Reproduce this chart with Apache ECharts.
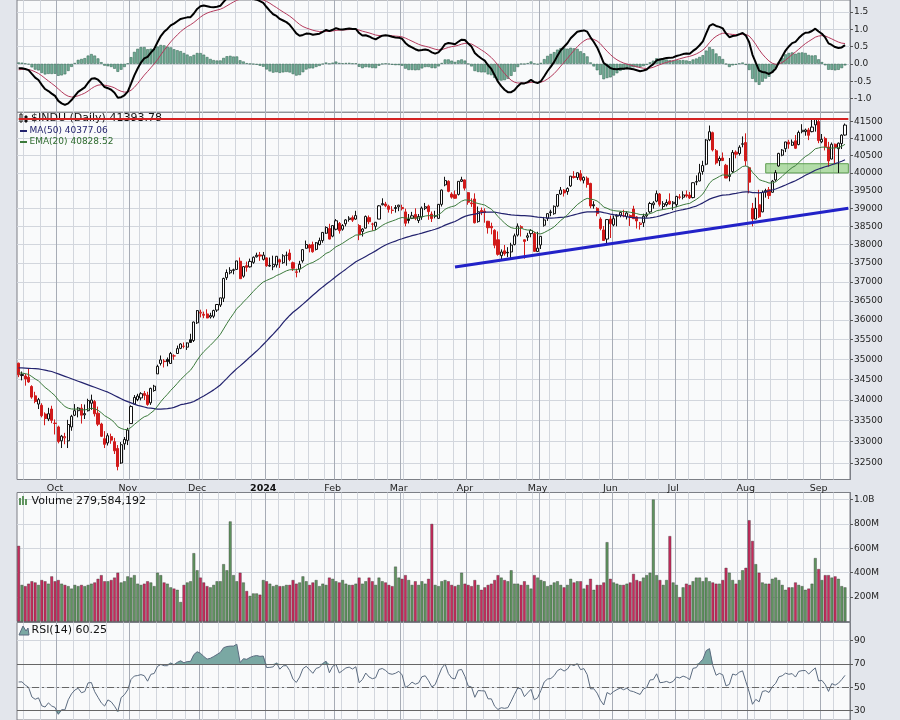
<!DOCTYPE html>
<html>
<head>
<meta charset="utf-8">
<script src="https://cdn.jsdelivr.net/npm/echarts@6/dist/echarts.min.js"></script>
<style>
  html, body { margin: 0; padding: 0; background: #e3e6ec; }
  #chart { width: 900px; height: 720px; }
</style>
</head>
<body>
<div id="chart"></div>
<script>
// trading days, 2023-09-15 .. 2024-09-13
const HOLIDAYS = ['2023-11-23', '2023-12-25', '2024-01-01', '2024-01-15', '2024-02-19',
  '2024-03-29', '2024-05-27', '2024-06-19', '2024-07-04', '2024-09-02']

const OPEN = [
  34907, 34600, 34590, 34560, 34330, 34100, 33900, 33870, 33660, 33540, 33780,
  33440, 33350, 33020, 33090, 33020, 33350, 33630, 33740, 33800, 33640, 33740, 33920, 33960, 33680, 33420, 33070, 32970, 33120, 33000, 32840, 32500, 32950,
  33030, 33430, 33900, 34010, 34050, 34160, 34120, 33930, 34230, 34640, 34900, 34960, 35000, 34900, 35090, 35150, 35280, 35330, 35310, 35500, 35480,
  35930, 36180, 36150, 36160, 36080, 36100, 36260, 36390, 36570, 37110, 37240, 37320, 37330, 37550, 37150, 37430, 37400, 37520, 37670, 37720,
  37600, 37640, 37420, 37400, 37450, 37590, 37510, 37710, 37770, 37510, 37250, 37340, 37560, 37900, 37990, 38000, 37870, 38000, 38110, 38310, 38440,
  38230, 38420, 38580, 38420, 38570, 38690, 38740, 38700, 38520, 38360, 38450, 38740, 38560, 38500, 38700, 39100, 39120, 39060, 38940, 39020,
  39040, 39020, 38900, 38700, 38720, 38830, 38660, 38760, 39000, 39060, 38840, 38780, 38720, 39110, 39660, 39760, 39400, 39380, 39390, 39760,
  39800, 39440, 39150, 39260, 38630, 38940, 38920, 38640, 38500, 38390, 38130, 37700, 37830, 37790, 37800, 38000, 38260, 38490, 38130, 38200, 38300, 38300,
  37810, 37990, 38530, 38720, 38900, 38850, 39060, 39400, 39510, 39470, 39630, 39900, 39870, 39980, 39790, 39850, 39700, 39100, 39000, 38700, 38400, 38150,
  38700, 38540, 38780, 38810, 38800, 38770, 38800, 38980, 38760, 38550, 38600, 38790, 38900, 39100, 39200, 39400, 39050, 39100, 39200,
  39130, 39100, 39320, 39310, 39380, 39370, 39300, 39740, 39770, 40040, 40250, 40960, 41170, 40640, 40350, 40430, 40220, 39900, 40040, 40600, 40560, 40830,
  40880, 40150, 39000, 38700, 39100, 38900, 39450, 39520, 39450, 39800, 40200, 40510, 40700, 40890, 40800, 40930, 40820, 41200, 41200, 41250, 41200, 41400,
  41500, 40900, 41000, 40750, 40400, 40830, 40700, 40850, 41100
]
const HIGH = [
  34920, 34700, 34640, 34780, 34360, 34200, 34050, 33920, 33700, 33810, 33860,
  33530, 33380, 33160, 33210, 33520, 33640, 33900, 33830, 33900, 33890, 34030, 34130, 34000, 33840, 33450, 33250, 33200, 33190, 33090, 32920, 32990, 33110,
  33330, 33870, 34120, 34150, 34190, 34220, 34200, 34300, 34370, 34870, 35100, 35010, 35050, 35190, 35130, 35350, 35410, 35430, 35430, 35650, 35960,
  36260, 36270, 36220, 36280, 36190, 36270, 36410, 36580, 37110, 37330, 37390, 37350, 37560, 37650, 37420, 37540, 37620, 37680, 37780, 37800,
  37800, 37650, 37650, 37700, 37690, 37620, 37740, 37810, 37870, 37540, 37350, 37560, 37880, 38110, 38020, 38080, 38070, 38190, 38340, 38500, 38570,
  38520, 38700, 38620, 38560, 38700, 38780, 38800, 38930, 38560, 38450, 38800, 38800, 38600, 38620, 39090, 39280, 39180, 39100, 39060, 39090,
  39100, 39100, 38990, 38840, 38900, 39000, 38840, 39050, 39150, 39100, 38910, 38930, 39120, 39530, 39890, 39790, 39450, 39500, 39760, 39890,
  39810, 39460, 39280, 39420, 39050, 39020, 39000, 38650, 38600, 38420, 38360, 37870, 37990, 37930, 38050, 38300, 38580, 38530, 38140, 38320, 38420, 38350,
  38350, 38230, 38760, 38860, 38960, 39080, 39390, 39600, 39540, 39590, 39910, 40050, 40010, 40080, 39900, 39900, 39720, 39200, 39030, 38750, 38510, 38700,
  38800, 38800, 38830, 38910, 38960, 38920, 38830, 39070, 38780, 38620, 38850, 38890, 39180, 39200, 39500, 39430, 39200, 39250, 39420,
  39200, 39350, 39400, 39480, 39500, 39460, 39730, 39930, 40260, 40350, 40980, 41380, 41200, 40690, 40480, 40590, 40260, 40430, 40660, 40650, 40800, 41060,
  41150, 40180, 39150, 39300, 39520, 39500, 39550, 39600, 39800, 40080, 40580, 40690, 40900, 40960, 40970, 41100, 41230, 41420, 41290, 41310, 41580, 41590,
  41550, 41130, 41050, 40900, 40880, 40850, 40880, 41120, 41440
]
const LOW = [
  34560, 34480, 34350, 34420, 34030, 33920, 33780, 33580, 33390, 33490, 33440,
  33170, 32960, 32850, 32940, 32850, 33260, 33610, 33580, 33430, 33540, 33720, 33760, 33600, 33370, 33110, 32850, 32910, 32950, 32710, 32330, 32480, 32810,
  32920, 33420, 33880, 33970, 33990, 34000, 33860, 33880, 34200, 34640, 34850, 34800, 34830, 34900, 34990, 35140, 35260, 35280, 35240, 35420, 35440,
  35900, 36070, 36050, 36050, 36040, 36050, 36210, 36340, 36470, 37050, 37200, 37200, 37320, 37080, 37110, 37270, 37380, 37480, 37650, 37560,
  37570, 37400, 37400, 37310, 37380, 37370, 37480, 37430, 37550, 37290, 37120, 37250, 37510, 37890, 37790, 37780, 37840, 37980, 38050, 38290, 38140,
  38200, 38390, 38300, 38380, 38500, 38630, 38620, 38680, 38120, 38220, 38440, 38560, 38380, 38400, 38700, 39080, 39030, 38880, 38850, 38880,
  38920, 38940, 38500, 38580, 38700, 38670, 38590, 38680, 38950, 38680, 38620, 38720, 38710, 39050, 39620, 39450, 39270, 39270, 39360, 39740,
  39500, 39100, 39040, 38580, 38600, 38810, 38600, 38300, 38280, 37900, 37700, 37610, 37700, 37660, 37610, 37980, 38220, 38220, 37620, 38100, 38200, 37810,
  37800, 37880, 38490, 38650, 38780, 38820, 39030, 39380, 39330, 39380, 39600, 39840, 39800, 39760, 39700, 39580, 39000, 38990, 38780, 38390, 38110, 38000,
  38180, 38500, 38500, 38750, 38750, 38690, 38510, 38700, 38440, 38410, 38480, 38740, 38860, 38990, 39170, 39050, 38970, 39050, 39100,
  38950, 39030, 39250, 39250, 39300, 39260, 39280, 39650, 39760, 39950, 40220, 40920, 40620, 40240, 40200, 40340, 39850, 39760, 40000, 40420, 40500, 40740,
  40200, 39420, 38500, 38690, 38730, 38890, 39300, 39260, 39440, 39750, 40180, 40480, 40600, 40700, 40780, 40690, 40800, 41150, 41080, 40950, 41180, 41200,
  40860, 40860, 40650, 40180, 40390, 40260, 40000, 40690, 41080
]
const CLOSE = [
  34618, 34624, 34517, 34441, 34070, 33964, 34007, 33619, 33551, 33667, 33508,
  33433, 33002, 33130, 33120, 33408, 33605, 33740, 33805, 33631, 33670, 33985, 33998, 33665, 33415, 33127, 32937, 33141, 33036, 32785, 32418, 32929, 33053,
  33275, 33840, 34061, 34096, 34153, 34112, 33892, 34283, 34338, 34828, 34991, 34946, 34947, 35151, 35088, 35273, 35390, 35334, 35417, 35430, 35951,
  36246, 36204, 36125, 36055, 36118, 36248, 36405, 36578, 37090, 37248, 37306, 37307, 37558, 37083, 37405, 37386, 37545, 37657, 37710, 37690,
  37715, 37430, 37440, 37466, 37683, 37526, 37696, 37711, 37593, 37361, 37267, 37469, 37863, 38001, 37906, 37806, 38050, 38109, 38333, 38467, 38150,
  38520, 38654, 38380, 38521, 38677, 38726, 38671, 38797, 38273, 38424, 38773, 38628, 38564, 38612, 39069, 39131, 39069, 38972, 38949, 38996,
  39087, 38990, 38585, 38661, 38791, 38723, 38770, 39005, 39043, 38906, 38715, 38790, 39111, 39512, 39781, 39476, 39313, 39282, 39760, 39807,
  39567, 39170, 39128, 38597, 38904, 38892, 38883, 38462, 38459, 37983, 37735, 37799, 37753, 37775, 37986, 38240, 38504, 38461, 38086, 38240, 38386, 37816,
  37903, 38226, 38676, 38852, 38884, 39056, 39388, 39513, 39432, 39558, 39908, 39869, 40004, 39807, 39873, 39671, 39065, 39070, 38853, 38442, 38112, 38686,
  38571, 38711, 38807, 38886, 38799, 38868, 38747, 38712, 38648, 38589, 38778, 38835, 39134, 39150, 39411, 39112, 39127, 39164, 39119,
  39170, 39332, 39308, 39376, 39345, 39292, 39721, 39753, 40001, 40212, 40954, 41198, 40665, 40288, 40415, 40358, 39854, 39935, 40590, 40540, 40743, 40843,
  40348, 39737, 38703, 38997, 38763, 39446, 39498, 39357, 39766, 40008, 40563, 40660, 40897, 40835, 40891, 40713, 41175, 41240, 41250, 41092, 41335, 41563,
  40937, 40975, 40756, 40345, 40830, 40737, 40861, 41097, 41394
]
// millions of shares
const VOLUME = [
  620, 300, 290, 310, 330, 320, 300, 340, 330, 310, 370,
  330, 340, 310, 300, 290, 270, 300, 290, 300, 290, 300, 310, 320, 350, 380, 330, 330, 340, 360, 400, 320, 330,
  370, 360, 380, 310, 300, 310, 330, 320, 290, 400, 380, 320, 310, 280, 270, 260, 160, 300, 320, 330, 560,
  420, 360, 320, 290, 280, 300, 330, 330, 470, 420, 820, 380, 330, 400, 320, 250, 210, 230, 230, 220,
  340, 330, 310, 290, 300, 290, 290, 300, 300, 340, 310, 320, 370, 330, 300, 320, 340, 290, 310, 300, 360,
  350, 330, 320, 340, 310, 300, 300, 310, 360, 310, 330, 360, 330, 300, 360, 330, 320, 300, 290, 450,
  360, 350, 380, 340, 300, 330, 300, 330, 310, 350, 800, 300, 290, 330, 340, 330, 300, 290, 300, 400,
  310, 300, 290, 340, 300, 260, 280, 300, 310, 340, 380, 360, 340, 330, 420, 310, 310, 300, 330, 300, 270, 380,
  360, 340, 330, 290, 300, 320, 330, 300, 280, 300, 350, 320, 330, 330, 270, 300, 350, 260, 300, 300, 320, 650,
  350, 320, 310, 300, 300, 310, 320, 390, 340, 330, 360, 380, 400, 1000, 380, 340, 300, 340, 700,
  320, 300, 200, 280, 310, 300, 330, 360, 360, 330, 360, 330, 320, 310, 310, 340, 440, 400, 340, 310, 340, 420,
  440, 830, 660, 470, 400, 320, 310, 310, 350, 360, 340, 300, 260, 280, 280, 320, 300, 290, 260, 270, 310, 520,
  430, 340, 380, 380, 360, 370, 350, 290, 280
]
const MA50_EARLY = [
  34790, 34790, 34785, 34780, 34775, 34770, 34765, 34750, 34735, 34715,
  34700, 34670, 34640, 34610, 34580, 34550, 34520, 34490, 34460, 34430,
  34400, 34370, 34340, 34310, 34280, 34250, 34220, 34190, 34150, 34110,
  34070, 34030, 33990, 33960, 33930, 33900, 33870, 33850, 33830, 33810,
  33800, 33790, 33780, 33780, 33785, 33790, 33800, 33820, 33850
]
// indicator values at the first bar
const EMA20_START = 34664
const EMA12_START = 34655
const EMA26_START = 34700
const SIGNAL_START = -0.17
const RSI_GAIN_START = 90
const RSI_LOSS_START = 75

const PRICE_TICKS = [32500, 33000, 33500, 34000, 34500, 35000, 35500, 36000, 36500, 37000,
  37500, 38000, 38500, 39000, 39500, 40000, 40500, 41000, 41500]
const PPO_TICKS = [-1, -0.5, 0, 0.5, 1, 1.5]
const VOLUME_TICKS = [200, 400, 600, 800, 1000]
const RSI_TICKS = [30, 50, 70, 90]
const MONTHS = ['Jan', 'Feb', 'Mar', 'Apr', 'May', 'Jun', 'Jul', 'Aug', 'Sep', 'Oct', 'Nov', 'Dec']

// annotations (date or bar index, price)
const RESISTANCE = 41575
const TREND_FROM = ['2024-03-26', 37395]
const TREND_TO = [251, 39000]
const ZONE = [226, 40000, 251, 40265]

const DATES = (() => {
  const out = []
  const d = new Date(Date.UTC(2023, 8, 15))
  const end = Date.UTC(2024, 8, 13)
  while (d.getTime() <= end) {
    const s = d.toISOString().slice(0, 10)
    const wd = d.getUTCDay()
    if (wd !== 0 && wd !== 6 && !HOLIDAYS.includes(s)) out.push(s)
    d.setUTCDate(d.getUTCDate() + 1)
  }
  return out
})()
const CATS = DATES.concat([''])
const MONTH_START = CATS.map((s, i) => i > 0 && s !== '' && s.slice(0, 7) !== CATS[i - 1].slice(0, 7))
const WEEK_START = CATS.map((s, i) => {
  if (i === 0 || s === '') return false
  return new Date(s + 'T00:00:00Z').getUTCDay() < new Date(CATS[i - 1] + 'T00:00:00Z').getUTCDay()
})

// indicators
const N = CLOSE.length
const ma50 = CLOSE.map((c, i) => {
  if (i < 49) return MA50_EARLY[i]
  let s = 0
  for (let k = i - 49; k <= i; k++) s += CLOSE[k]
  return s / 50
})
const ema20 = []
const ppo = []
const signal = []
const rsi = []
{
  let e20 = EMA20_START, e12 = EMA12_START, e26 = EMA26_START, sig = SIGNAL_START
  let g = RSI_GAIN_START, l = RSI_LOSS_START
  for (let i = 0; i < N; i++) {
    if (i > 0) {
      const c = CLOSE[i]
      e20 += (c - e20) * 2 / 21
      e12 += (c - e12) * 2 / 13
      e26 += (c - e26) * 2 / 27
      const ch = c - CLOSE[i - 1]
      g = (g * 13 + Math.max(ch, 0)) / 14
      l = (l * 13 + Math.max(-ch, 0)) / 14
    }
    const p = (e12 - e26) / e26 * 100
    if (i > 0) sig += (p - sig) * 2 / 10
    ema20.push(e20)
    ppo.push(p)
    signal.push(sig)
    rsi.push(100 - 100 / (1 + g / l))
  }
}
const hist = ppo.map((p, i) => p - signal[i])

const log = Math.log
const FONT = 'DejaVu Sans'
const GRID_LINE = '#d2d6dd'
const MONTH_LINE = '#a7acb6'

const candles = CLOSE.map((c, i) => {
  const o = OPEN[i]
  const prev = i ? CLOSE[i - 1] : o
  const col = c >= prev ? '#111111' : '#d11a1a'
  const fill = c >= o ? '#ffffff' : col
  return {
    value: [log(o), log(c), log(LOW[i]), log(HIGH[i])],
    itemStyle: { color: fill, color0: fill, borderColor: col, borderColor0: col }
  }
})
const volBars = VOLUME.map((v, i) => {
  const up = i === 0 ? false : CLOSE[i] >= CLOSE[i - 1]
  return { value: v, itemStyle: { color: up ? '#5f945f' : '#c72b5c' } }
})

function xPair (gridIndex, withLabels) {
  const base = {
    type: 'category', gridIndex, position: 'bottom', data: CATS, boundaryGap: true,
    axisLine: { show: false }, axisTick: { show: false }
  }
  return [
    Object.assign({}, base, {
      axisLabel: { show: false },
      splitLine: { show: true, interval: (i) => WEEK_START[i - 1] === true, lineStyle: { color: GRID_LINE, width: 1 } }
    }),
    Object.assign({}, base, {
      axisLabel: withLabels ? {
        show: true,
        interval: (i) => MONTH_START[i],
        margin: 4,
        fontFamily: FONT,
        fontSize: 9.5,
        color: '#222',
        formatter: (v) => {
          const m = +v.slice(5, 7)
          return m === 1 ? '{y|' + v.slice(0, 4) + '}' : MONTHS[m - 1]
        },
        rich: { y: { fontFamily: FONT, fontSize: 9.5, fontWeight: 'bold', color: '#111' } }
      } : { show: false },
      splitLine: { show: true, interval: (i) => MONTH_START[i - 1] === true, lineStyle: { color: MONTH_LINE, width: 1 } }
    })
  ]
}

function yRight (gridIndex, min, max, ticks, fmt) {
  return {
    type: 'value', gridIndex, position: 'right', min, max, scale: true,
    axisLine: { show: true, lineStyle: { color: '#7c7f86' } },
    axisTick: { show: true, length: 3, customValues: ticks, lineStyle: { color: '#555' } },
    axisLabel: { customValues: ticks, formatter: fmt, fontFamily: FONT, fontSize: 9, color: '#222', margin: 4 },
    splitLine: { show: true, lineStyle: { color: GRID_LINE, width: 1 } }
  }
}

const gridStyle = { left: 17, right: 50, show: true, backgroundColor: '#f9fafb', borderColor: '#7c7f86', borderWidth: 1 }

const option = {
  animation: false,
  backgroundColor: '#e3e6ec',
  grid: [
    Object.assign({ top: -2, height: 114.3 }, gridStyle),
    Object.assign({ top: 112.3, height: 367.2 }, gridStyle),
    Object.assign({ top: 492.5, height: 129 }, gridStyle),
    Object.assign({ top: 622.5, height: 97.5 }, gridStyle)
  ],
  xAxis: [].concat(xPair(0, false), xPair(1, true), xPair(2, false), xPair(3, false)),
  yAxis: [
    yRight(0, -1.397, 1.841, PPO_TICKS, (v) => v.toFixed(1)),
    yRight(1, log(41500) - 0.25626, log(41500) + 0.006586, PRICE_TICKS.map(log), (v) => String(Math.round(Math.exp(v)))),
    yRight(2, 0, 1057, VOLUME_TICKS, (v) => v >= 1000 ? (v / 1000).toFixed(1) + 'B' : v + 'M'),
    yRight(3, 21.97, 105.54, RSI_TICKS, (v) => String(v))
  ],
  series: [
    // PPO panel
    {
      type: 'bar', xAxisIndex: 0, yAxisIndex: 0, data: hist, barWidth: '85%',
      itemStyle: { color: '#72ae97', borderColor: '#3d6b5b', borderWidth: 0.6 }
    },
    {
      type: 'line', xAxisIndex: 0, yAxisIndex: 0, data: signal, symbol: 'none',
      lineStyle: { color: '#b33a5c', width: 1 }
    },
    {
      type: 'line', xAxisIndex: 0, yAxisIndex: 0, data: ppo, symbol: 'none',
      lineStyle: { color: '#000000', width: 2 }
    },
    // price panel
    {
      type: 'candlestick', xAxisIndex: 2, yAxisIndex: 1, data: candles, barWidth: 2.6,
      markArea: {
        silent: true,
        itemStyle: { color: 'rgba(120,195,100,0.55)', borderColor: '#5e9e50', borderWidth: 1 },
        data: [[{ xAxis: ZONE[0], yAxis: log(ZONE[1]) }, { xAxis: ZONE[2], yAxis: log(ZONE[3]) }]]
      }
    },
    {
      type: 'line', xAxisIndex: 2, yAxisIndex: 1, data: ma50.map(log), symbol: 'none',
      lineStyle: { color: '#23236e', width: 1.2 }
    },
    {
      type: 'line', xAxisIndex: 2, yAxisIndex: 1, data: ema20.map(log), symbol: 'none',
      lineStyle: { color: '#3b7a3b', width: 1 },
      markLine: {
        silent: true, symbol: ['none', 'none'], label: { show: false },
        data: [
          [
            { coord: [TREND_FROM[0], log(TREND_FROM[1])], lineStyle: { color: '#2222c8', width: 3, type: 'solid' } },
            { coord: [TREND_TO[0], log(TREND_TO[1])] }
          ]
        ]
      }
    },
    // horizontal resistance line across the whole panel
    {
      type: 'line', xAxisIndex: 2, yAxisIndex: 1, symbol: 'none', z: 5,
      data: CATS.map(() => log(RESISTANCE)),
      lineStyle: { color: '#d42222', width: 2 }
    },
    // volume panel
    {
      type: 'bar', xAxisIndex: 4, yAxisIndex: 2, data: volBars, barWidth: '88%',
      itemStyle: { borderColor: 'rgba(50,50,50,0.75)', borderWidth: 0.5 }
    },
    // RSI panel: shaded zones above 70 and below 30
    {
      type: 'line', xAxisIndex: 6, yAxisIndex: 3, stack: 'ob', symbol: 'none',
      data: rsi.map(() => 70), lineStyle: { opacity: 0 }
    },
    {
      type: 'line', xAxisIndex: 6, yAxisIndex: 3, stack: 'ob', symbol: 'none',
      data: rsi.map((v) => Math.max(v - 70, 0)), lineStyle: { opacity: 0 },
      areaStyle: { color: '#7aa8a3', opacity: 1 }
    },
    {
      type: 'line', xAxisIndex: 6, yAxisIndex: 3, stack: 'os', symbol: 'none',
      data: rsi.map((v) => Math.min(v, 30)), lineStyle: { opacity: 0 }
    },
    {
      type: 'line', xAxisIndex: 6, yAxisIndex: 3, stack: 'os', symbol: 'none',
      data: rsi.map((v) => 30 - Math.min(v, 30)), lineStyle: { opacity: 0 },
      areaStyle: { color: '#7aa8a3', opacity: 1 }
    },
    {
      type: 'line', xAxisIndex: 6, yAxisIndex: 3, data: rsi, symbol: 'none',
      lineStyle: { color: '#5b6b80', width: 1 },
      markLine: {
        silent: true, symbol: ['none', 'none'], label: { show: false },
        data: [
          { yAxis: 70, lineStyle: { color: '#666', width: 1, type: 'solid' } },
          { yAxis: 30, lineStyle: { color: '#666', width: 1, type: 'solid' } },
          { yAxis: 50, lineStyle: { color: '#666', width: 1, type: [7, 3, 2, 3] } }
        ]
      }
    }
  ],
  graphic: [
    // price legend
    { type: 'rect', z: 1, shape: { x: 20, y: 114, width: 2, height: 8 }, style: { fill: '#fff', stroke: '#111', lineWidth: 1 } },
    { type: 'rect', z: 1, shape: { x: 25, y: 116, width: 2, height: 6 }, style: { fill: '#111', stroke: '#111', lineWidth: 1 } },
    { type: 'text', z: 1, x: 31, y: 118.5, style: { text: '$INDU (Daily) 41393.78', font: '11px "DejaVu Sans"', fill: '#111', verticalAlign: 'middle' } },
    { type: 'rect', z: 1, shape: { x: 20, y: 130, width: 7, height: 2 }, style: { fill: '#23236e' } },
    { type: 'text', z: 1, x: 29.5, y: 131, style: { text: 'MA(50) 40377.06', font: '9px "DejaVu Sans"', fill: '#23236e', verticalAlign: 'middle' } },
    { type: 'rect', z: 1, shape: { x: 20, y: 141, width: 7, height: 2 }, style: { fill: '#3b7a3b' } },
    { type: 'text', z: 1, x: 29.5, y: 142, style: { text: 'EMA(20) 40828.52', font: '9px "DejaVu Sans"', fill: '#2e6b2e', verticalAlign: 'middle' } },
    // volume legend
    { type: 'rect', z: 1, shape: { x: 19, y: 498, width: 2, height: 7 }, style: { fill: '#5f945f' } },
    { type: 'rect', z: 1, shape: { x: 22, y: 496, width: 2, height: 9 }, style: { fill: '#5f945f' } },
    { type: 'rect', z: 1, shape: { x: 25, y: 499, width: 2, height: 6 }, style: { fill: '#5f945f' } },
    { type: 'text', z: 1, x: 31.5, y: 501, style: { text: 'Volume 279,584,192', font: '11px "DejaVu Sans"', fill: '#111', verticalAlign: 'middle' } },
    // RSI legend
    { type: 'polygon', z: 1, shape: { points: [[19, 635], [23, 626], [26, 631], [28, 628], [29, 635]] }, style: { fill: '#7aa8a3', stroke: '#5b6b80', lineWidth: 1 } },
    { type: 'text', z: 1, x: 31.5, y: 630, style: { text: 'RSI(14) 60.25', font: '11px "DejaVu Sans"', fill: '#111', verticalAlign: 'middle' } }
  ]
}

const chart = echarts.init(document.getElementById('chart'))
chart.setOption(option)
</script>
</body>
</html>
